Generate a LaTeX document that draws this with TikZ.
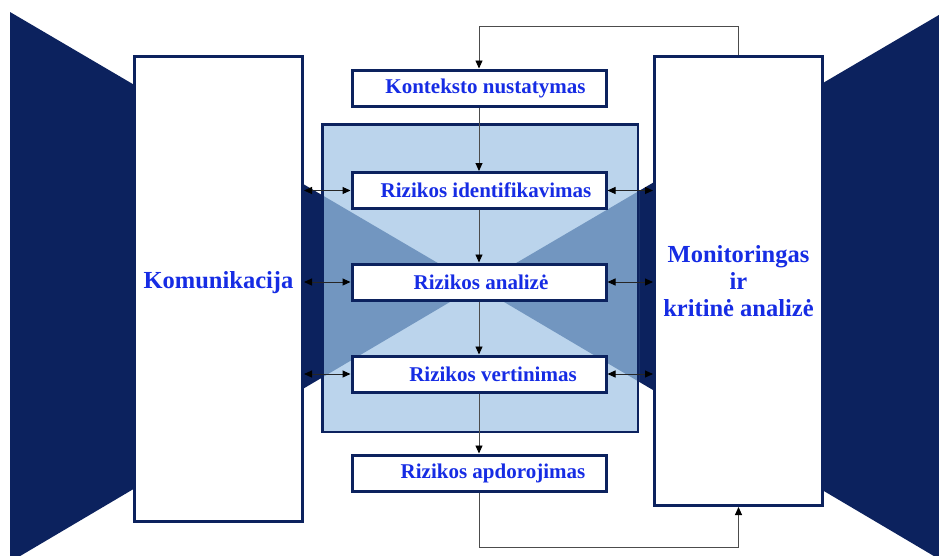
\documentclass[tikz,border=0pt]{standalone}
\usepackage{fontspec}
\setmainfont{Liberation Serif}
\usetikzlibrary{arrows.meta}
\definecolor{navy}{RGB}{12,34,94}
\definecolor{midblue}{RGB}{114,150,192}
\definecolor{lightblue}{RGB}{187,212,236}
\definecolor{txtblue}{RGB}{22,44,228}
\begin{document}
\begin{tikzpicture}[x=1pt,y=-1pt,
  bigbox/.style={draw=navy,line width=3pt,fill=white,minimum width=168pt,inner sep=0pt,
    font=\fontsize{24.5}{26.7}\selectfont\bfseries,text=txtblue,align=center},
  stepbox/.style={draw=navy,line width=3pt,fill=white,minimum width=254pt,minimum height=36pt,
    inner sep=0pt,font=\fontsize{21}{24}\selectfont\bfseries,text=txtblue},
  conn/.style={draw=black!70,line width=0.9pt,-{Triangle[length=8pt,width=7pt,color=black]}},
  dconn/.style={draw=black!85,line width=1pt,{Triangle[length=8pt,width=7pt,color=black]}-{Triangle[length=8pt,width=7pt,color=black]}}]
\useasboundingbox (0,0) rectangle (939,555);
\fill[white] (0,0) rectangle (939,555);
% dark bow-tie background
\begin{scope}
  \clip (0,0) rectangle (939,555);
  \fill[navy] (10,12) -- (477,286) -- (10,562) -- cycle;
  \fill[navy] (944,12) -- (477,286) -- (944,562) -- cycle;
\end{scope}
% light central panel with medium bow-tie inside
\fill[lightblue] (321,123) rectangle (639,433);
\begin{scope}
  \clip (321,123) rectangle (639,433);
  \fill[midblue] (10,12) -- (477,286) -- (10,562) -- cycle;
  \fill[midblue] (944,12) -- (477,286) -- (944,562) -- cycle;
\end{scope}
\draw[navy,line width=2.5pt] (322.25,124.25) rectangle (637.75,431.75);
% side boxes
\node[bigbox,minimum height=465pt,text height=17pt,text depth=19pt] (kom) at (218.5,289) {Komunikacija};
\node[bigbox,minimum height=449pt] (mon) at (738.5,281) {Monitoringas\\ir\\kritinė analizė};
% process boxes
\node[stepbox] (ctx) at (479,88) {\hspace*{13pt}Konteksto nustatymas};
\node[stepbox] (rid) at (479,190.5) {\hspace*{14pt}Rizikos identifikavimas};
\node[stepbox] (ran) at (479,282) {\hspace*{4pt}Rizikos analizė};
\node[stepbox] (rve) at (479,374) {\hspace*{28pt}Rizikos vertinimas};
\node[stepbox] (rap) at (479,473) {\hspace*{28pt}Rizikos apdorojimas};
% vertical flow
\draw[conn] (ctx.south) -- (rid.north);
\draw[conn] (rid.south) -- (ran.north);
\draw[conn] (ran.south) -- (rve.north);
\draw[conn] (rve.south) -- (rap.north);
% feedback loops
\coordinate (topc) at (479,26);
\coordinate (botc) at (738.5,547);
\draw[conn] (mon.north) |- (topc) -- (ctx.north);
\draw[conn] (rap.south) |- (botc) -- (mon.south);
% horizontal two-way arrows
\draw[dconn] (kom.east |- rid.west) -- (rid.west);
\draw[dconn] (kom.east |- ran.west) -- (ran.west);
\draw[dconn] (kom.east |- rve.west) -- (rve.west);
\draw[dconn] (rid.east) -- (mon.west |- rid.east);
\draw[dconn] (ran.east) -- (mon.west |- ran.east);
\draw[dconn] (rve.east) -- (mon.west |- rve.east);
\end{tikzpicture}
\end{document}
